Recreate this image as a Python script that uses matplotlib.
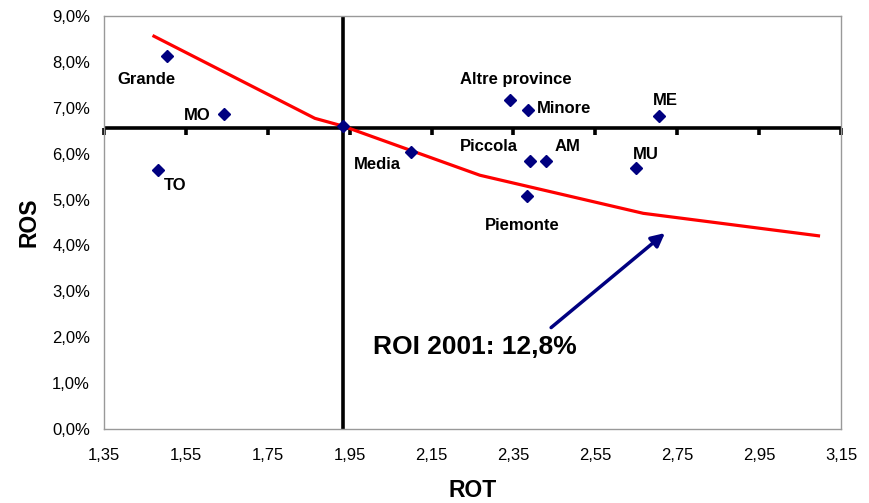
import numpy as np
import matplotlib.pyplot as plt
from matplotlib.ticker import FuncFormatter

plt.rcParams['font.family'] = ['Liberation Sans', 'DejaVu Sans']

# punti (ROT, ROS %)
names = ["Grande", "MO", "TO", "", "Media", "Altre province", "Minore",
         "Piccola", "AM", "Piemonte", "MU", "ME"]
rot = [1.504, 1.643, 1.483, 1.934, 2.100, 2.342, 2.386, 2.391, 2.430, 2.384, 2.650, 2.705]
ros = [8.13, 6.87, 5.64, 6.60, 6.04, 7.16, 6.96, 5.85, 5.85, 5.08, 5.68, 6.83]
# label offsets (points)
offs = [(-15, -17), (-19, -1), (12, -11), (0, 0), (-24, -9), (4, 15), (26, 1),
        (-30, 10), (15, 10), (-4, -21), (7, 10), (5, 11)]

# curva ROI 12,8%
roi_x = [1.472, 1.865, 1.934, 2.268, 2.667, 3.095]
roi_y = [8.56, 6.77, 6.60, 5.53, 4.70, 4.21]

x_cross = 1.934
y_cross = 6.57
xticks = [1.35, 1.55, 1.75, 1.95, 2.15, 2.35, 2.55, 2.75, 2.95, 3.15]
yticks = [0, 1, 2, 3, 4, 5, 6, 7, 8, 9]

fig = plt.figure(figsize=(8.7, 5.03), dpi=100)
ax = fig.add_axes([104/870, 1-429/503, 737/870, 413/503])
ax.set_xlim(1.35, 3.15)
ax.set_ylim(0, 9)
ax.set_xticks(xticks)
ax.set_yticks(yticks)
ax.xaxis.set_major_formatter(FuncFormatter(lambda v, p: ("%.2f" % v).replace(".", ",")))
ax.yaxis.set_major_formatter(FuncFormatter(lambda v, p: ("%.1f%%" % v).replace(".", ",")))
ax.tick_params(axis='x', length=0, pad=13.5, labelsize=12)
ax.tick_params(axis='y', length=0, pad=10, labelsize=12)
for s in ax.spines.values():
    s.set_color('#999999')
    s.set_linewidth(1)

# assi incrociati
ax.axhline(y_cross, color='black', lw=2.6, zorder=2)
ax.axvline(x_cross, color='black', lw=2.6, zorder=2)
ax.plot(xticks, [y_cross]*len(xticks), ls='none', marker=3, ms=5, mew=2.6,
        color='black', clip_on=False, zorder=2)

ax.plot(roi_x, roi_y, color='#ff0000', lw=2.3, zorder=3)
ax.plot(rot, ros, ls='none', marker='D', ms=6.5, color='#000080', zorder=4)

for n, x, y, o in zip(names, rot, ros, offs):
    if n:
        ax.annotate(n, (x, y), xytext=o, textcoords='offset points',
                    ha='center', va='center', fontsize=12, fontweight='bold')

ax.text(2.255, 1.79, "ROI 2001: 12,8%", ha='center', va='center',
        fontsize=19, fontweight='bold')
ax.annotate("", xy=(2.720, 4.27), xytext=(2.442, 2.21),
            arrowprops=dict(arrowstyle='-|>,head_length=0.8,head_width=0.4',
                            color='#000080', lw=2.5, shrinkA=0, shrinkB=0))

ax.set_xlabel("ROT", fontsize=16.5, fontweight='bold', labelpad=12)
ax.set_ylabel("ROS", fontsize=16.5, fontweight='bold', labelpad=8)

fig.savefig("out.png", dpi=100)
